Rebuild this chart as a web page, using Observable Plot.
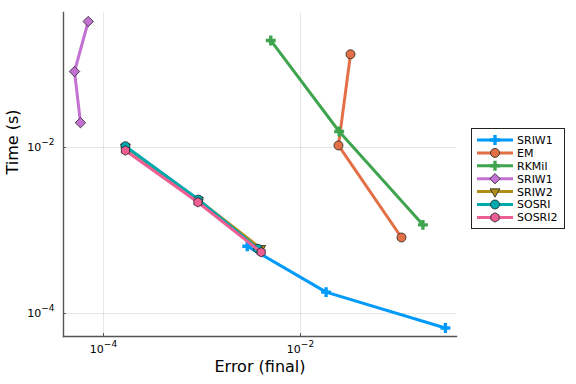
<!DOCTYPE html>
<html><head><meta charset="utf-8">
<script src="https://cdn.jsdelivr.net/npm/d3@7"></script>
<script src="https://cdn.jsdelivr.net/npm/@observablehq/plot@0.6"></script>
<style>
body{margin:0;background:#fff;font-family:"DejaVu Sans",sans-serif;}
#wrap{position:relative;width:576px;height:384px;}
#legend{position:absolute;left:0;top:0;pointer-events:none;}
</style></head><body><div id="wrap"></div>
<script>
// ---- data ----
const seriesNames = ["SRIW1", "EM", "RKMil", "SRIW1", "SRIW2", "SOSRI", "SOSRI2"];
const errSRIW1a = [2.88e-3, 1.82e-2, 2.96e-1];
const timeSRIW1a = [6.47e-4, 1.81e-4, 6.7e-5];
const errEM = [3.22e-2, 2.43e-2, 1.06e-1];
const timeEM = [1.33e-1, 1.06e-2, 8.24e-4];
const errRKMil = [4.99e-3, 2.47e-2, 1.75e-1];
const timeRKMil = [1.95e-1, 1.56e-2, 1.17e-3];
const errSRIW1b = [7.0e-5, 5.08e-5, 5.84e-5];
const timeSRIW1b = [3.3e-1, 8.24e-2, 1.99e-2];
const errSRIW2 = [1.67e-4, 9.2e-4, 3.95e-3];
const timeSRIW2 = [1.02e-2, 2.33e-3, 6.1e-4];
const errSOSRI = [1.67e-4, 9.2e-4, 3.69e-3];
const timeSOSRI = [1.037e-2, 2.36e-3, 6.03e-4];
const errSOSRI2 = [1.67e-4, 9.1e-4, 3.99e-3];
const timeSOSRI2 = [9.2e-3, 2.19e-3, 5.48e-4];
const xTicks = [1e-4, 1e-2];
const yTicks = [1e-4, 1e-2];

// ---- styles ----
const seriesColors = ["#009AFA", "#E36F47", "#3EA44E", "#C371D2", "#AC8E18", "#00A9AD", "#ED5E93"];
const seriesSymbols = ["cross", "circle", "cross", "diamond", "dtriangle", "circle", "hexagon"];

const symDtriangle = {draw(ctx, size) {
  const R = Math.sqrt(size / Math.PI) * 1.25;
  ctx.moveTo(0, R); ctx.lineTo(R * 0.866, -R * 0.5); ctx.lineTo(-R * 0.866, -R * 0.5); ctx.closePath();
}};
const symHexagon = {draw(ctx, size) {
  const R = Math.sqrt(size / Math.PI) * 1.05;
  for (let k = 0; k < 6; k++) {
    const a = Math.PI / 3 * k + Math.PI / 6;
    k ? ctx.lineTo(R * Math.cos(a), R * Math.sin(a)) : ctx.moveTo(R * Math.cos(a), R * Math.sin(a));
  }
  ctx.closePath();
}};
const symDiamond = {draw(ctx, size) {
  const R = Math.sqrt(size / Math.PI) * 1.15;
  ctx.moveTo(0, -R); ctx.lineTo(R, 0); ctx.lineTo(0, R); ctx.lineTo(-R, 0); ctx.closePath();
}};
const symCross = {draw(ctx, size) {
  const R = Math.sqrt(size / Math.PI) * 1.1, w = R * 0.34;
  ctx.moveTo(-R, -w); ctx.lineTo(-w, -w); ctx.lineTo(-w, -R); ctx.lineTo(w, -R); ctx.lineTo(w, -w);
  ctx.lineTo(R, -w); ctx.lineTo(R, w); ctx.lineTo(w, w); ctx.lineTo(w, R); ctx.lineTo(-w, R);
  ctx.lineTo(-w, w); ctx.lineTo(-R, w); ctx.closePath();
}};
const symCircle = d3.symbolCircle;
const symbolMap = {cross: symCross, circle: symCircle, diamond: symDiamond, dtriangle: symDtriangle, hexagon: symHexagon};

const seriesData = [
  [errSRIW1a, timeSRIW1a], [errEM, timeEM], [errRKMil, timeRKMil], [errSRIW1b, timeSRIW1b],
  [errSRIW2, timeSRIW2], [errSOSRI, timeSOSRI], [errSOSRI2, timeSOSRI2]
].map(([e, t], i) => e.map((v, j) => ({series: i, err: v, time: t[j]})));

const W = 576, H = 384;
const mL = 63, mR = 120, mT = 12, mB = 48;
const xDomain = [Math.pow(10, -4.406), Math.pow(10, -0.416)];
const yDomain = [Math.pow(10, -4.277), Math.pow(10, -0.373)];

const marks = [
  Plot.ruleX(xTicks, {stroke: "#000", strokeOpacity: 0.1, strokeWidth: 1}),
  Plot.ruleY(yTicks, {stroke: "#000", strokeOpacity: 0.1, strokeWidth: 1}),
  Plot.frame({anchor: "left", stroke: "#555", strokeWidth: 1.4}),
  Plot.frame({anchor: "bottom", stroke: "#555", strokeWidth: 1.4}),
  Plot.axisX({ticks: xTicks, tickSize: -3, tickPadding: 12, tickFormat: d => "10^" + Math.round(Math.log10(d)), label: null, fontSize: 11, stroke: "#555"}),
  Plot.axisY({ticks: yTicks, tickSize: -3, tickPadding: 12, tickFormat: d => "10^" + Math.round(Math.log10(d)), label: null, fontSize: 11, stroke: "#555"}),
  Plot.text(["Error (final)"], {frameAnchor: "bottom", dy: 35, fontSize: 16, fill: "#000"}),
  Plot.text(["Time (s)"], {frameAnchor: "left", dx: -51, rotate: -90, fontSize: 16, fill: "#000"})
];
seriesData.forEach((rows, i) => {
  const s = seriesSymbols[i];
  const isCross = s === "cross";
  marks.push(Plot.line(rows, {x: "err", y: "time", stroke: seriesColors[i], strokeWidth: 3}));
  marks.push(Plot.dot(rows, {x: "err", y: "time", symbol: symbolMap[s], r: 4.5,
    fill: seriesColors[i], stroke: isCross ? "none" : "#222", strokeWidth: 0.8}));
});

const chart = Plot.plot({
  width: W, height: H,
  marginLeft: mL, marginRight: mR, marginTop: mT, marginBottom: mB,
  style: {fontFamily: "DejaVu Sans, sans-serif", background: "#fff"},
  x: {type: "log", domain: xDomain},
  y: {type: "log", domain: yDomain},
  marks
});
document.getElementById("wrap").appendChild(chart);

// superscripts for tick labels
d3.select(chart).selectAll("g[aria-label$='tick label'] text").each(function() {
  const t = this.textContent;
  if (!t.includes("^")) return;
  const [b, e] = t.split("^");
  const sel = d3.select(this);
  sel.text(null);
  sel.append("tspan").text(b);
  sel.append("tspan").attr("dy", "-6").attr("font-size", "9px").text(e.replace("-", "\u2212"));
});
d3.select(chart).selectAll("g[aria-label='x-axis tick label'] text").attr("fill", "#000");
d3.select(chart).selectAll("g[aria-label='y-axis tick label'] text").attr("fill", "#000");

// legend
const lg = d3.select("#wrap").append("svg").attr("id", "legend").attr("width", W).attr("height", H);
const lx = 471.5, ly = 128.5, lw = 93, lh = 100, rowH = 12.9, row0 = 140;
lg.append("rect").attr("x", lx).attr("y", ly).attr("width", lw).attr("height", lh)
  .attr("fill", "#fff").attr("stroke", "#222").attr("stroke-width", 1);
seriesNames.forEach((name, i) => {
  const y = row0 + i * rowH;
  const g = lg.append("g");
  g.append("line").attr("x1", 477).attr("x2", 513).attr("y1", y).attr("y2", y)
    .attr("stroke", seriesColors[i]).attr("stroke-width", 3);
  const isCross = seriesSymbols[i] === "cross";
  g.append("path").attr("transform", `translate(495,${y})`)
    .attr("d", d3.symbol(symbolMap[seriesSymbols[i]], Math.PI * 4.5 * 4.5)())
    .attr("fill", seriesColors[i]).attr("stroke", isCross ? "none" : "#222").attr("stroke-width", 0.8);
  g.append("text").attr("x", 517).attr("y", y).attr("dy", "0.36em")
    .attr("font-size", 11).attr("font-family", "DejaVu Sans, sans-serif").text(name);
});
</script></body></html>
